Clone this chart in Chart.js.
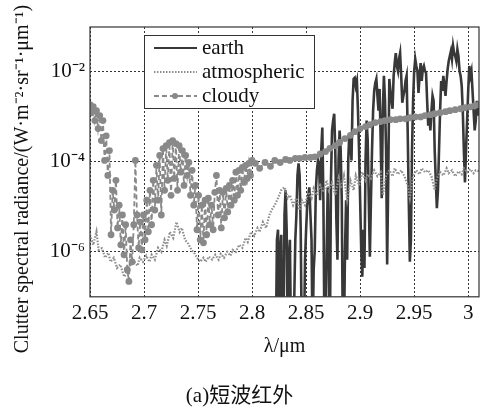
<!DOCTYPE html>
<html>
<head>
<meta charset="utf-8">
<script src="https://cdn.jsdelivr.net/npm/chart.js@4.4.1/dist/chart.umd.min.js"></script>
<style>
  html, body { margin: 0; padding: 0; background: #fff; }
  #wrap { width: 504px; height: 413px; }
</style>
</head>
<body>
<div id="wrap"><canvas id="chart" width="504" height="413"></canvas></div>
<script>
// wavelength (um) / radiance pairs
var earthX = [2.822, 2.823, 2.824, 2.825, 2.826, 2.827, 2.828, 2.829, 2.830, 2.831,
  2.832, 2.833, 2.834, 2.835, 2.836, 2.837, 2.838, 2.839, 2.840, 2.841,
  2.842, 2.843, 2.844, 2.845, 2.846, 2.847, 2.848, 2.849, 2.850, 2.851,
  2.852, 2.853, 2.854, 2.855, 2.856, 2.857, 2.858, 2.859, 2.860, 2.861,
  2.862, 2.863, 2.864, 2.865, 2.866, 2.867, 2.868, 2.869, 2.870, 2.871,
  2.872, 2.873, 2.874, 2.875, 2.876, 2.877, 2.878, 2.879, 2.880, 2.881,
  2.882, 2.883, 2.884, 2.885, 2.886, 2.887, 2.888, 2.889, 2.890, 2.891,
  2.892, 2.893, 2.894, 2.895, 2.896, 2.897, 2.898, 2.899, 2.900, 2.901,
  2.902, 2.903, 2.904, 2.905, 2.906, 2.907, 2.908, 2.909, 2.910, 2.911,
  2.912, 2.913, 2.914, 2.915, 2.916, 2.917, 2.918, 2.919, 2.920, 2.921,
  2.922, 2.923, 2.924, 2.925, 2.926, 2.927, 2.928, 2.929, 2.930, 2.931,
  2.932, 2.933, 2.934, 2.935, 2.936, 2.937, 2.938, 2.939, 2.940, 2.941,
  2.942, 2.943, 2.944, 2.945, 2.946, 2.947, 2.948, 2.949, 2.950, 2.951,
  2.952, 2.953, 2.954, 2.955, 2.956, 2.957, 2.958, 2.959, 2.960, 2.961,
  2.962, 2.963, 2.964, 2.965, 2.966, 2.967, 2.968, 2.969, 2.970, 2.971,
  2.972, 2.973, 2.974, 2.975, 2.976, 2.977, 2.978, 2.979, 2.980, 2.981,
  2.982, 2.983, 2.984, 2.985, 2.986, 2.987, 2.988, 2.989, 2.990, 2.991,
  2.992, 2.993, 2.994, 2.995, 2.996, 2.997, 2.998, 2.999, 3.000, 3.001,
  3.002, 3.003, 3.004, 3.005, 3.006, 3.007, 3.008, 3.009, 3.010];
var earthY = [1e-8, 1.85e-6, 3.1e-6, 1e-8, 1.11e-6, 2.4e-6, 1e-8, 1e-8, 6.6e-6, 2.33e-5,
  3.1e-6, 1e-8, 6.7e-7, 1.85e-6, 1e-8, 1e-8, 1e-8, 8e-8, 1.85e-6, 6.6e-6,
  5.0e-5, 9.3e-5, 5.0e-5, 3.1e-6, 1e-8, 1e-8, 1e-8, 6.7e-7, 3.1e-6, 1.09e-5,
  1.81e-5, 2.72e-5, 6.6e-6, 1.85e-6, 1e-8, 4.0e-7, 1.11e-6, 2.33e-5, 6.5e-5, 1.08e-4,
  8.4e-5, 1.41e-5, 1.79e-4, 5.8e-4, 1.41e-5, 1e-8, 1e-8, 1.11e-6, 2.72e-5, 1.11e-6,
  1e-8, 3.9e-5, 5.0e-4, 8.3e-4, 1.18e-3, 1.79e-4, 5.1e-6, 6.7e-7, 1.08e-4, 5.0e-4,
  1.79e-4, 1.41e-5, 1e-8, 1e-8, 1.11e-6, 1.41e-5, 6.7e-7, 1.08e-4, 4.3e-4, 2.98e-4,
  1.08e-4, 2.29e-3, 7.0e-3, 7.4e-3, 4.9e-3, 6.3e-3, 1.38e-3, 1.79e-4, 1.41e-5, 1.11e-6,
  2.8e-7, 3.1e-6, 4.4e-7, 1.08e-4, 8.3e-4, 2.98e-4, 1.41e-5, 7.8e-7, 1.41e-5, 1.79e-4,
  1.38e-3, 3.8e-3, 5.7e-3, 7.0e-3, 2.95e-3, 1.38e-3, 4.2e-3, 2.98e-4, 1.56e-5, 1.38e-3,
  8.2e-3, 2.29e-3, 1.79e-4, 5.2e-7, 3.9e-5, 7.0e-3, 3.8e-3, 2.29e-3, 1.52e-3, 8.2e-3,
  1.58e-2, 2.63e-2, 1.36e-2, 1.05e-2, 1.94e-2, 2.63e-2, 8.2e-3, 2.06e-3, 2.95e-3, 3.8e-3,
  6.3e-3, 8.2e-3, 5.0e-4, 1.41e-5, 6.0e-7, 1.85e-6, 1.79e-4, 2.29e-3, 1.05e-2, 1.94e-2,
  1.36e-2, 1.05e-2, 3.43e-3, 8.2e-3, 1.58e-2, 6.3e-3, 1.17e-2, 1.36e-2, 1.05e-2, 9.5e-3,
  2.29e-3, 6.4e-4, 1.07e-3, 5.0e-4, 1.38e-3, 2.95e-3, 2.29e-3, 1.79e-4, 3.9e-5, 9.4e-6,
  2.33e-5, 1.79e-4, 1.38e-3, 6.3e-3, 3.8e-3, 8.2e-3, 4.9e-3, 2.95e-3, 6.3e-3, 1.17e-2,
  1.75e-2, 2.26e-2, 2.9e-2, 1.94e-2, 3.8e-2, 2.63e-2, 2.26e-2, 1.75e-2, 3.2e-2, 2.26e-2,
  1.05e-2, 8.2e-3, 4.9e-3, 1.38e-3, 1.79e-4, 3.5e-5, 1.79e-4, 8.3e-4, 3.8e-3, 1.36e-2,
  8.2e-3, 1.05e-2, 3.8e-3, 1.38e-3, 5.0e-4, 8.3e-4, 2.29e-3, 1.07e-3, 1.77e-3];

var atmosX = [2.650, 2.653, 2.656, 2.658, 2.661, 2.664, 2.667, 2.669, 2.672, 2.675,
  2.678, 2.681, 2.682, 2.685, 2.688, 2.691, 2.694, 2.696, 2.699, 2.702,
  2.705, 2.707, 2.710, 2.713, 2.716, 2.719, 2.721, 2.724, 2.727, 2.730,
  2.733, 2.735, 2.738, 2.741, 2.744, 2.747, 2.749, 2.752, 2.755, 2.757,
  2.760, 2.763, 2.766, 2.769, 2.771, 2.774, 2.777, 2.780, 2.782, 2.785,
  2.788, 2.791, 2.794, 2.796, 2.799, 2.802, 2.805, 2.807, 2.810, 2.813,
  2.816, 2.818, 2.821, 2.824, 2.827, 2.830, 2.833, 2.835, 2.838, 2.841,
  2.844, 2.846, 2.849, 2.852, 2.855, 2.857, 2.860, 2.863, 2.866, 2.869,
  2.871, 2.874, 2.877, 2.880, 2.882, 2.885, 2.888, 2.891, 2.894, 2.896,
  2.899, 2.902, 2.905, 2.907, 2.910, 2.913, 2.916, 2.919, 2.921, 2.924,
  2.927, 2.930, 2.932, 2.935, 2.938, 2.941, 2.944, 2.946, 2.949, 2.952,
  2.955, 2.957, 2.960, 2.963, 2.966, 2.969, 2.971, 2.974, 2.977, 2.980,
  2.982, 2.985, 2.988, 2.991, 2.994, 2.996, 2.999, 3.002, 3.005, 3.007, 3.010];
var atmosY = [2.4e-6, 1.43e-6, 2.8e-6, 1.1e-6, 1.2e-6, 7.4e-7, 9.5e-7, 6.0e-7, 7.4e-7, 4.4e-7,
  5.2e-7, 3.1e-7, 2.8e-7, 4.4e-7, 5.2e-7, 6.0e-7, 4.9e-7, 7.4e-7, 6.0e-7, 8.2e-7,
  6.0e-7, 8.6e-7, 6.7e-7, 1.23e-6, 1.0e-6, 1.84e-6, 1.36e-6, 2.77e-6, 2.04e-6, 4.6e-6,
  2.77e-6, 3.39e-6, 1.84e-6, 1.5e-6, 1.1e-6, 9.0e-7, 7.4e-7, 6.0e-7, 7.4e-7, 6.0e-7,
  7.8e-7, 6.7e-7, 8.6e-7, 6.7e-7, 9.0e-7, 7.4e-7, 1.0e-6, 8.2e-7, 1.1e-6, 1.0e-6,
  1.43e-6, 1.23e-6, 2.04e-6, 1.66e-6, 2.77e-6, 2.26e-6, 3.39e-6, 2.77e-6, 4.6e-6, 3.39e-6,
  6.6e-6, 8.5e-6, 1.09e-5, 1.56e-5, 2.35e-5, 2.73e-5, 1.56e-5, 1.82e-5, 1.09e-5, 1.56e-5,
  8.5e-6, 1.41e-5, 1.09e-5, 2.12e-5, 1.56e-5, 2.59e-5, 1.82e-5, 3.0e-5, 2.12e-5, 3.9e-5,
  2.35e-5, 3.5e-5, 1.82e-5, 4.3e-5, 2.59e-5, 5.0e-5, 1.41e-5, 3.9e-5, 2.35e-5, 5.0e-5,
  3.0e-5, 5.9e-5, 3.9e-5, 5.3e-5, 4.3e-5, 6.5e-5, 4.8e-5, 5.9e-5, 1.82e-5, 5.0e-5,
  6.5e-5, 4.8e-5, 7.2e-5, 5.3e-5, 6.5e-5, 4.8e-5, 3.0e-5, 1.56e-5, 5.0e-5, 6.5e-5,
  5.3e-5, 7.2e-5, 5.9e-5, 6.5e-5, 4.8e-5, 2.35e-5, 4.3e-5, 5.9e-5, 5.0e-5, 7.2e-5,
  5.6e-5, 6.5e-5, 4.8e-5, 6.2e-5, 5.3e-5, 7.2e-5, 5.9e-5, 6.9e-5, 5.6e-5, 6.5e-5, 6.2e-5];

var cloudyX = [2.650, 2.6515, 2.653, 2.6545, 2.656, 2.6575, 2.659, 2.6605, 2.662, 2.6635,
  2.665, 2.6665, 2.668, 2.6695, 2.671, 2.6725, 2.674, 2.6755, 2.677, 2.6785,
  2.680, 2.6815, 2.683, 2.6845, 2.686, 2.6875, 2.689, 2.6905, 2.692, 2.6935,
  2.695, 2.6965, 2.698, 2.6995, 2.701, 2.7025, 2.704, 2.7055, 2.707, 2.7085,
  2.710, 2.7115, 2.713, 2.7145, 2.716, 2.7175, 2.719, 2.7205, 2.722, 2.7235,
  2.725, 2.7265, 2.728, 2.7295, 2.731, 2.7325, 2.734, 2.7355, 2.737, 2.7385,
  2.740, 2.7415, 2.743, 2.7445, 2.746, 2.7475, 2.749, 2.7505, 2.752, 2.7535,
  2.755, 2.7565, 2.758, 2.7595, 2.761, 2.7625, 2.764, 2.7655, 2.767, 2.7685,
  2.770, 2.7715, 2.773, 2.7745, 2.776, 2.7775, 2.779, 2.7805, 2.782, 2.7835,
  2.785, 2.7865, 2.788, 2.7895, 2.791, 2.7925, 2.794, 2.7955, 2.797, 2.7985,
  2.800,
  2.803, 2.807, 2.812, 2.817, 2.821, 2.826, 2.831, 2.835, 2.840, 2.844,
  2.849, 2.854, 2.858, 2.863, 2.868, 2.872, 2.877, 2.881, 2.886, 2.891,
  2.895, 2.900, 2.905, 2.909, 2.914, 2.919, 2.923, 2.928, 2.933, 2.937,
  2.942, 2.946, 2.951, 2.956, 2.960, 2.965, 2.969, 2.974, 2.979, 2.983,
  2.988, 2.993, 2.997, 3.002, 3.006, 3.010];
var cloudyY = [1.87e-3, 1.24e-3, 1.69e-3, 8.3e-4, 1.38e-3, 5.5e-4, 1.07e-3, 2.98e-4, 8.3e-4, 1.08e-4,
  3.8e-4, 5.0e-5, 1.79e-4, 2.4e-6, 2.33e-5, 8.5e-6, 3.9e-5, 3.4e-6, 1.09e-5, 1.43e-6,
  6.6e-6, 8.6e-7, 4.0e-6, 4.0e-7, 2.2e-7, 1.85e-6, 6.0e-7, 4.0e-6, 1.08e-4, 6.6e-6,
  1.23e-6, 4.6e-6, 1.11e-6, 6.6e-6, 1.85e-6, 1.41e-5, 2.8e-6, 2.33e-5, 4.0e-6, 3.9e-5,
  8.5e-6, 8.4e-5, 1.41e-5, 1.39e-4, 6.6e-6, 1.98e-4, 2.33e-5, 2.31e-4, 3.9e-5, 2.69e-4,
  1.81e-5, 2.98e-4, 4.3e-5, 2.56e-4, 2.33e-5, 2.31e-4, 5.9e-5, 1.79e-4, 3.0e-5, 1.39e-4,
  5.0e-5, 9.7e-5, 1.81e-5, 6.5e-5, 1.09e-5, 3.0e-5, 3.1e-6, 1.81e-5, 1.85e-6, 1.09e-5,
  1.59e-6, 1.41e-5, 2.4e-6, 1.56e-5, 4.0e-6, 1.09e-5, 3.1e-6, 2.11e-5, 5.0e-5, 6.6e-6,
  2.33e-5, 3.4e-6, 2.11e-5, 5.7e-6, 2.58e-5, 7.7e-6, 3.0e-5, 1.09e-5, 3.9e-5, 1.41e-5,
  5.9e-5, 1.81e-5, 6.5e-5, 2.33e-5, 7.5e-5, 3.5e-5, 8.4e-5, 4.3e-5, 9.3e-5, 5.0e-5,
  1.08e-4,
  9.3e-5, 7.2e-5, 9.7e-5, 8.0e-5, 1.08e-4, 9.7e-5, 1.13e-4, 1.08e-4, 1.2e-4, 1.2e-4,
  1.26e-4, 1.26e-4, 1.3e-4, 1.5e-4, 1.7e-4, 2.0e-4, 2.3e-4, 2.7e-4, 3.3e-4, 3.9e-4,
  4.7e-4, 5.5e-4, 6.1e-4, 6.7e-4, 7.5e-4, 7.9e-4, 8.3e-4, 8.7e-4, 8.7e-4, 9.1e-4,
  9.1e-4, 9.6e-4, 1.0e-3, 1.0e-3, 1.07e-3, 1.12e-3, 1.18e-3, 1.24e-3, 1.31e-3, 1.38e-3,
  1.45e-3, 1.52e-3, 1.6e-3, 1.68e-3, 1.77e-3, 1.87e-3];

var seriesNames = ['earth', 'atmospheric', 'cloudy'];
var xTicks = [2.65, 2.7, 2.75, 2.8, 2.85, 2.9, 2.95, 3];
var yTicks = [1e-2, 1e-4, 1e-6];
var yTickLabels = ['10⁻²', '10⁻⁴', '10⁻⁶'];
var xTitle = 'λ/μm';
var yTitle = 'Clutter spectral radiance/(W·m⁻²·sr⁻¹·μm⁻¹)';
var caption = '(a)短波红外';

var serif = "'Liberation Serif', 'Noto Sans CJK SC', serif";

function pts(xs, ys) {
    return xs.map(function (x, i) { return { x: x, y: ys[i] }; });
}

// box round the plot, legend box and the rotated y title
var decor = {
    id: 'decor',
    afterDraw: function (chart) {
        var ctx = chart.ctx, a = chart.chartArea;
        ctx.save();
        ctx.strokeStyle = '#333';
        ctx.lineWidth = 1.2;
        ctx.setLineDash([]);
        ctx.strokeRect(a.left, a.top, a.right - a.left, a.bottom - a.top);

        var lx = a.left + 54, ly = a.top + 8, lw = 170, lh = 73;
        ctx.fillStyle = '#fff';
        ctx.fillRect(lx, ly, lw, lh);
        ctx.lineWidth = 1;
        ctx.strokeRect(lx + 0.5, ly + 0.5, lw, lh);
        chart.data.datasets.forEach(function (ds, i) {
            var y = ly + 13 + i * 24;
            ctx.strokeStyle = ds.borderColor;
            ctx.lineWidth = Math.min(ds.borderWidth, 2);
            ctx.setLineDash(ds.borderDash || []);
            ctx.beginPath();
            ctx.moveTo(lx + 10, y);
            ctx.lineTo(lx + 53, y);
            ctx.stroke();
            if (ds.pointRadius) {
                ctx.fillStyle = ds.pointBackgroundColor;
                ctx.beginPath();
                ctx.arc(lx + 31, y, 3, 0, Math.PI * 2);
                ctx.fill();
            }
            ctx.fillStyle = '#111';
            ctx.font = '21px ' + serif;
            ctx.textAlign = 'left';
            ctx.textBaseline = 'middle';
            ctx.fillText(ds.label, lx + 58, y);
        });

        ctx.translate(23, 179);
        ctx.rotate(-Math.PI / 2);
        ctx.fillStyle = '#111';
        ctx.font = '20px ' + serif;
        ctx.textAlign = 'center';
        ctx.textBaseline = 'middle';
        ctx.fillText(yTitle, 0, 0);
        ctx.restore();
    }
};

new Chart(document.getElementById('chart'), {
    type: 'line',
    data: {
        datasets: [{
            label: seriesNames[0],
            data: pts(earthX, earthY),
            borderColor: '#383838',
            borderWidth: 2.6,
            pointRadius: 0,
            order: 3
        }, {
            label: seriesNames[1],
            data: pts(atmosX, atmosY),
            borderColor: '#8e8e8e',
            borderWidth: 2.2,
            borderDash: [1.5, 1.5],
            pointRadius: 0,
            order: 2
        }, {
            label: seriesNames[2],
            data: pts(cloudyX, cloudyY),
            borderColor: '#898989',
            borderWidth: 1.8,
            borderDash: [5, 3],
            pointRadius: 3.4,
            pointBorderWidth: 0,
            pointBackgroundColor: '#898989',
            order: 1
        }]
    },
    options: {
        responsive: false,
        animation: false,
        devicePixelRatio: 1,
        layout: { padding: { top: 27, right: 25, left: 0, bottom: 0 } },
        plugins: {
            legend: { display: false },
            tooltip: { enabled: false },
            title: {
                display: true,
                position: 'bottom',
                text: caption,
                color: '#111',
                font: { family: serif, size: 21, weight: 'normal' },
                padding: { top: 0, bottom: 4 }
            }
        },
        scales: {
            x: {
                type: 'linear',
                min: 2.65,
                max: 3.01,
                afterBuildTicks: function (scale) {
                    scale.ticks = xTicks.map(function (v) { return { value: v }; });
                },
                afterFit: function (scale) { scale.height = 87; },
                ticks: {
                    color: '#111',
                    font: { family: serif, size: 21 },
                    padding: 4,
                    maxRotation: 0,
                    callback: function (v) { return String(v); }
                },
                grid: { color: '#333', lineWidth: 1, drawTicks: false },
                border: { display: false, dash: [2, 2] },
                title: {
                    display: true,
                    text: xTitle,
                    color: '#111',
                    font: { family: serif, size: 20 },
                    padding: { top: 0, bottom: 25 }
                }
            },
            y: {
                type: 'logarithmic',
                min: 1e-7,
                max: 1e-1,
                afterBuildTicks: function (scale) {
                    scale.ticks = yTicks.map(function (v) { return { value: v }; });
                },
                afterFit: function (scale) { scale.width = 90; },
                ticks: {
                    color: '#111',
                    font: { family: serif, size: 21 },
                    padding: 5,
                    callback: function (v) { return yTickLabels[yTicks.indexOf(v)]; }
                },
                grid: { color: '#333', lineWidth: 1, drawTicks: false },
                border: { display: false, dash: [2, 2] }
            }
        }
    },
    plugins: [decor]
});
</script>
</body>
</html>
